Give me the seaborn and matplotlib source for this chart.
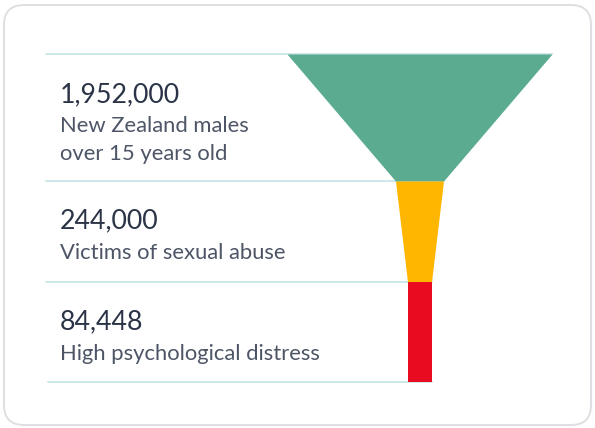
import matplotlib
matplotlib.use("Agg")
import matplotlib.pyplot as plt
from matplotlib.patches import FancyBboxPatch
import seaborn as sns

# ---- data ----
values = ["1,952,000", "244,000", "84,448"]
labels = [["New Zealand males", "over 15 years old"], ["Victims of sexual abuse"], ["High psychological distress"]]
colors = ["#5aab8f", "#ffb600", "#e90c20"]
# funnel widths (px) at the top and bottom of each stage
top_widths = [265, 48, 24]
bottom_widths = [48, 24, 24]

sns.set_theme(style="white")
plt.rcParams["font.family"] = ["Lato", "DejaVu Sans"]

W, H = 595, 428
fig = plt.figure(figsize=(W / 100, H / 100), dpi=100)
ax = fig.add_axes([0, 0, 1, 1])
ax.set_xlim(0, W)
ax.set_ylim(H, 0)
ax.axis("off")

# card
card = FancyBboxPatch((4, 5), 587, 420, boxstyle="round,pad=0,rounding_size=20",
                      facecolor="white", edgecolor="#dedfe2", linewidth=1.4)
ax.add_patch(card)

cx = 419.5
row_edges = [54, 181, 282, 382]
line_color = "#c8e6e8"

# separator lines
for i, y in enumerate(row_edges):
    if i < len(top_widths):
        right = cx + top_widths[i] / 2
    else:
        right = cx + bottom_widths[-1] / 2
    ax.plot([46 if i < 3 else 48, right], [y, y], color=line_color, lw=1.3, zorder=1)

# funnel stages
for i in range(len(values)):
    y0, y1 = row_edges[i], row_edges[i + 1]
    tw, bw = top_widths[i], bottom_widths[i]
    ax.fill_betweenx([y0, y1], [cx - tw / 2, cx - bw / 2], [cx + tw / 2, cx + bw / 2],
                     color=colors[i], lw=0, zorder=2)

# texts
num_y = [102, 228, 329]
lab_y = [132, 259, 360]
for i in range(len(values)):
    ax.text(60, num_y[i], values[i], fontsize=19.3, color="#2b3447", va="baseline", ha="left")
    for j, line in enumerate(labels[i]):
        ax.text(60, lab_y[i] + 27.5 * j, line, fontsize=15.8, color="#4d5566",
                va="baseline", ha="left")

fig.savefig("out.png", dpi=100, facecolor="white")
